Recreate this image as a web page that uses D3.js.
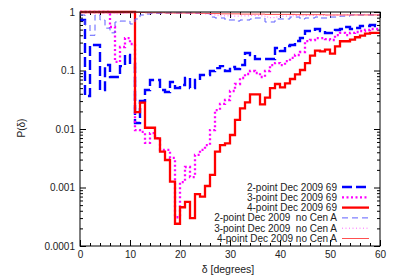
<!DOCTYPE html>
<meta charset="utf-8">
<head>
  <style>
    html, body { margin: 0; padding: 0; background: #fff; }
    svg { display: block; font-family: "Liberation Sans", Arial, sans-serif; }
    .tick text { font-size: 10px; fill: #222; }
    .legend text { white-space: pre; }
  </style>
</head>
<script src="https://cdn.jsdelivr.net/npm/d3@7/dist/d3.min.js"></script>
<body>
<script>
// bins are 1 degree wide, value is P for the bin [k, k+1)
var deltaBins = d3.range(0, 60);

var twoPoint69 = [0.73, 0.0366, 0.273, 0.273, 0.0464, 0.124, 0.0774, 0.0774, 0.119, 0.184,
  0.129, 0.0127, 0.0301, 0.0464, 0.0688, 0.0688, 0.0464, 0.0429, 0.0636, 0.0502,
  0.0565, 0.0744, 0.0502, 0.0688, 0.0838, 0.0838, 0.098, 0.110, 0.119, 0.098,
  0.115, 0.106, 0.124, 0.199, 0.184, 0.157, 0.157, 0.157, 0.157, 0.242,
  0.215, 0.262, 0.273, 0.319, 0.359, 0.473, 0.473, 0.512, 0.473, 0.438,
  0.438, 0.492, 0.512, 0.554, 0.512, 0.533, 0.576, 0.576, 0.600, 0.576];

var threePoint69 = [1, 1, 1, 1, 1, 1, 0.554, 0.140, 0.252, 0.359,
  0.284, 0.0096, 0.0089, 0.0058, 0.0085, 0.0070, 0.0044, 0.0044, 0.0032, 0.00031,
  0.00124, 0.00224, 0.00151, 0.0036, 0.0044, 0.0053, 0.0096, 0.0211, 0.0268, 0.0313,
  0.0446, 0.0588, 0.0744, 0.0871, 0.098, 0.0907, 0.0774, 0.098, 0.124, 0.134,
  0.124, 0.145, 0.164, 0.184, 0.207, 0.319, 0.332, 0.359, 0.359, 0.345,
  0.332, 0.404, 0.438, 0.404, 0.438, 0.455, 0.473, 0.492, 0.512, 0.512];

var fourPoint69 = [1, 1, 1, 1, 1, 1, 1, 1, 1, 1,
  1, 0.0195, 0.0282, 0.0105, 0.0105, 0.0069, 0.0041, 0.00295, 0.00126, 0.00024,
  0.00046, 0.00057, 0.00030, 0.00077, 0.0007, 0.00106, 0.00164, 0.0041, 0.0053, 0.0057,
  0.0079, 0.0143, 0.0226, 0.0286, 0.039, 0.039, 0.0264, 0.0343, 0.0498, 0.0588,
  0.0516, 0.0604, 0.0716, 0.086, 0.102, 0.134, 0.179, 0.218, 0.213, 0.227,
  0.194, 0.259, 0.316, 0.316, 0.336, 0.37, 0.394, 0.426, 0.438, 0.438];

var twoPointNoCenA = [0.889, 0.60, 0.40, 0.889, 0.73, 0.53, 0.44, 0.675, 0.70, 0.70,
  0.624, 0.76, 0.889, 0.924, 0.94, 0.95, 0.95, 0.96, 0.96, 0.96,
  0.96, 0.96, 0.96, 0.95, 0.94, 0.94, 0.82, 0.79, 0.79, 0.73,
  0.73, 0.70, 0.73, 0.73, 0.76, 0.79, 0.79, 0.675, 0.675, 0.76,
  0.76, 0.76, 0.82, 0.82, 0.76, 0.79, 0.79, 0.82, 0.79, 0.79,
  0.82, 0.82, 0.85, 0.85, 0.889, 0.889, 0.889, 0.889, 0.889, 0.889];

var threePointNoCenA = [1, 1, 1, 1, 1, 0.97, 0.95, 0.93, 0.95, 0.96,
  0.97, 0.98, 0.98, 0.98, 0.97, 0.97, 0.97, 0.97, 0.96, 0.96,
  0.96, 0.96, 0.95, 0.95, 0.94, 0.93, 0.90, 0.88, 0.86, 0.86,
  0.85, 0.85, 0.86, 0.86, 0.87, 0.87, 0.86, 0.82, 0.80, 0.82,
  0.85, 0.85, 0.86, 0.87, 0.86, 0.87, 0.87, 0.88, 0.88, 0.88,
  0.88, 0.89, 0.89, 0.90, 0.90, 0.90, 0.91, 0.91, 0.91, 0.91];

var fourPointNoCenA = [1, 1, 1, 1, 1, 1, 1, 1, 1, 1,
  1, 0.99, 0.98, 0.97, 0.97, 0.97, 0.97, 0.96, 0.96, 0.96,
  0.96, 0.96, 0.96, 0.96, 0.95, 0.95, 0.94, 0.94, 0.93, 0.93,
  0.93, 0.93, 0.92, 0.92, 0.92, 0.92, 0.92, 0.91, 0.91, 0.91,
  0.91, 0.91, 0.91, 0.90, 0.90, 0.90, 0.90, 0.90, 0.90, 0.89,
  0.89, 0.89, 0.89, 0.89, 0.89, 0.89, 0.89, 0.89, 0.89, 0.89];

var xMajor = [0, 10, 20, 30, 40, 50, 60];
var xMinor = [2, 4, 6, 8, 12, 14, 16, 18, 22, 24, 26, 28, 32, 34, 36, 38, 42, 44, 46, 48, 52, 54, 56, 58];
var yMajor = [0.0001, 0.001, 0.01, 0.1, 1];
var yMajorLabels = ["0.0001", "0.001", "0.01", "0.1", "1"];

var series = [
  {name: "2-point Dec 2009 69", values: twoPoint69, color: "#0000ff", width: 2.4, dash: "10,4"},
  {name: "3-point Dec 2009 69", values: threePoint69, color: "#ff00ff", width: 2.3, dash: "2,2.5"},
  {name: "4-point Dec 2009 69", values: fourPoint69, color: "#ff0000", width: 2.3, dash: null},
  {name: "2-point Dec 2009  no Cen A", values: twoPointNoCenA, color: "#6060ff", width: 1, dash: "6,4"},
  {name: "3-point Dec 2009  no Cen A", values: threePointNoCenA, color: "#ff66ff", width: 1, dash: "1,2.5"},
  {name: "4-point Dec 2009 no Cen A", values: fourPointNoCenA, color: "#ff5050", width: 1, dash: null}
];

var W = 397, H = 278;
var mLeft = 80, mRight = 380, mTop = 12, mBottom = 246;

var svg = d3.select("body").append("svg").attr("width", W).attr("height", H);

var x = d3.scaleLinear().domain([0, 60]).range([mLeft, mRight]);
var y = d3.scaleLog().domain([0.0001, 1]).range([mBottom, mTop]);

var yMinor = [];
yMajor.slice(0, 4).forEach(function(d) {
  for (var m = 2; m <= 9; m++) yMinor.push(d * m);
});

// axes, ticks pointing inward on all four sides
function styleAxis(g) {
  g.select(".domain").remove();
  g.selectAll(".tick line").attr("stroke", "#000");
}

svg.append("g").attr("transform", "translate(0," + mBottom + ")")
  .call(d3.axisBottom(x).tickValues(xMajor).tickSize(-6).tickPadding(5).tickFormat(d3.format("d")))
  .call(styleAxis);
svg.append("g").attr("transform", "translate(0," + mBottom + ")")
  .call(d3.axisBottom(x).tickValues(xMinor).tickSize(-3).tickFormat(""))
  .call(styleAxis);
svg.append("g").attr("transform", "translate(0," + mTop + ")")
  .call(d3.axisTop(x).tickValues(xMajor).tickSize(-6).tickFormat(""))
  .call(styleAxis);
svg.append("g").attr("transform", "translate(0," + mTop + ")")
  .call(d3.axisTop(x).tickValues(xMinor).tickSize(-3).tickFormat(""))
  .call(styleAxis);

svg.append("g").attr("transform", "translate(" + mLeft + ",0)")
  .call(d3.axisLeft(y).tickValues(yMajor).tickSize(-6).tickPadding(5)
    .tickFormat(function(d, i) { return yMajorLabels[i]; }))
  .call(styleAxis);
svg.append("g").attr("transform", "translate(" + mLeft + ",0)")
  .call(d3.axisLeft(y).tickValues(yMinor).tickSize(-3).tickFormat(""))
  .call(styleAxis);
svg.append("g").attr("transform", "translate(" + mRight + ",0)")
  .call(d3.axisRight(y).tickValues(yMajor).tickSize(-6).tickFormat(""))
  .call(styleAxis);
svg.append("g").attr("transform", "translate(" + mRight + ",0)")
  .call(d3.axisRight(y).tickValues(yMinor).tickSize(-3).tickFormat(""))
  .call(styleAxis);

// step histograms
var line = d3.line()
  .x(function(d) { return x(d[0]); })
  .y(function(d) { return y(d[1]); })
  .curve(d3.curveStepAfter);

series.forEach(function(s) {
  var pts = deltaBins.map(function(k) { return [k, s.values[k]]; });
  pts.push([60, s.values[59]]);
  svg.append("path")
    .attr("d", line(pts))
    .attr("fill", "none")
    .attr("stroke", s.color)
    .attr("stroke-width", s.width)
    .attr("stroke-dasharray", s.dash);
});

// frame
svg.append("rect")
  .attr("x", mLeft).attr("y", mTop)
  .attr("width", mRight - mLeft).attr("height", mBottom - mTop)
  .attr("fill", "none").attr("stroke", "#000").attr("stroke-width", 1);

// legend
var leg = svg.append("g").attr("class", "legend");
series.forEach(function(s, i) {
  var ly = 187 + i * 10.3;
  leg.append("text")
    .attr("x", 337).attr("y", ly + 3.5)
    .attr("text-anchor", "end")
    .attr("font-size", 10)
    .attr("fill", "#222")
    .text(s.name);
  leg.append("line")
    .attr("x1", 342).attr("x2", 369)
    .attr("y1", ly).attr("y2", ly)
    .attr("stroke", s.color)
    .attr("stroke-width", s.width)
    .attr("stroke-dasharray", s.dash);
});

// axis titles
svg.append("text")
  .attr("x", (mLeft + mRight) / 2 - 2).attr("y", 273)
  .attr("text-anchor", "middle").attr("font-size", 10.5).attr("fill", "#222")
  .text("δ [degrees]");
svg.append("text")
  .attr("transform", "translate(25,128) rotate(-90)")
  .attr("text-anchor", "middle").attr("font-size", 10).attr("fill", "#222")
  .text("P(δ)");
</script>
</body>
